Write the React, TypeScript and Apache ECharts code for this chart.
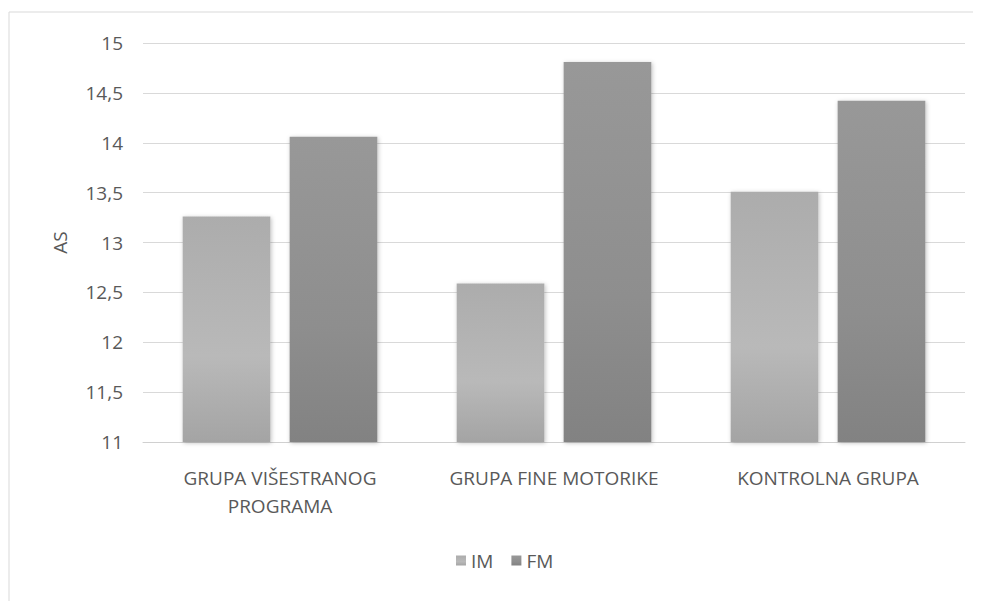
import React, { useEffect, useRef } from "react";
import * as echarts from "echarts";

const categories = ["GRUPA VIŠESTRANOG\nPROGRAMA", "GRUPA FINE MOTORIKE", "KONTROLNA GRUPA"];
const seriesNames = ["IM", "FM"];
const imValues = [13.26, 12.59, 13.51];
const fmValues = [14.06, 14.81, 14.42];
const yMin = 11;
const yMax = 15;
const yStep = 0.5;

const FONT = "'Open Sans', 'Noto Sans', sans-serif";
const TXT = "#595959";

export default function App() {
  const ref = useRef<HTMLDivElement>(null);
  useEffect(() => {
    if (!ref.current) return;
    const chart = echarts.init(ref.current, undefined, { renderer: "svg" });
    const grad = (top: string, mid: string, bot: string) =>
      new echarts.graphic.LinearGradient(0, 0, 0, 1, [
        { offset: 0, color: top },
        { offset: 0.62, color: mid },
        { offset: 1, color: bot },
      ]);
    chart.setOption({
      animation: false,
      backgroundColor: "#ffffff",
      textStyle: { fontFamily: FONT },
      graphic: [
        {
          type: "rect",
          shape: { x: 1, y: 4, width: 1000, height: 620 },
          style: { fill: "none", stroke: "#d9d9d9", lineWidth: 1 },
          silent: true,
        },
      ],
      legend: {
        data: seriesNames,
        bottom: 26,
        left: 443,
        itemWidth: 10,
        itemHeight: 10,
        itemGap: 18,
        icon: "rect",
        textStyle: { color: TXT, fontSize: 19, fontFamily: FONT },
      },
      grid: { left: 135, right: 16, top: 35, bottom: 159, containLabel: false },
      xAxis: {
        type: "category",
        data: categories,
        axisLine: { lineStyle: { color: "#d0d0d0" } },
        axisTick: { show: false },
        axisLabel: { color: TXT, fontSize: 19, lineHeight: 28, margin: 22, fontFamily: FONT, interval: 0 },
      },
      yAxis: {
        type: "value",
        min: yMin,
        max: yMax,
        interval: yStep,
        name: "AS",
        nameLocation: "middle",
        nameGap: 74,
        nameRotate: 90,
        nameTextStyle: { color: TXT, fontSize: 19, fontFamily: FONT },
        axisLine: { show: false },
        axisTick: { show: false },
        axisLabel: {
          color: TXT,
          fontSize: 19,
          margin: 20,
          fontFamily: FONT,
          formatter: (v: number) => String(v).replace(".", ","),
        },
        splitLine: { lineStyle: { color: "#d9d9d9" } },
      },
      series: [
        {
          name: seriesNames[0],
          type: "bar",
          data: imValues,
          barWidth: "32%",
          barGap: "22%",
          itemStyle: {
            color: grad("#acacac", "#b9b9b9", "#a4a4a4"),
            shadowBlur: 4,
            shadowColor: "rgba(0,0,0,0.25)",
            shadowOffsetX: 1,
            shadowOffsetY: 1,
          },
        },
        {
          name: seriesNames[1],
          type: "bar",
          data: fmValues,
          barWidth: "32%",
          barGap: "22%",
          itemStyle: {
            color: grad("#989898", "#8e8e8e", "#828282"),
            shadowBlur: 4,
            shadowColor: "rgba(0,0,0,0.25)",
            shadowOffsetX: 1,
            shadowOffsetY: 1,
          },
        },
      ],
    });
    return () => chart.dispose();
  }, []);
  return <div ref={ref} style={{ width: 973, height: 593 }} />;
}
